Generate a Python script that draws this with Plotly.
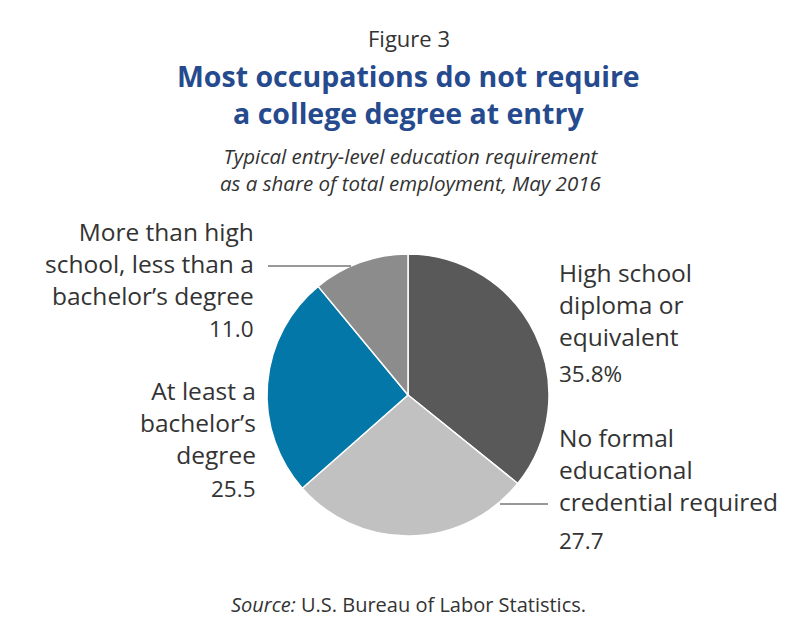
import plotly.graph_objects as go

W, H = 806, 638

categories = [
    "High school diploma or equivalent",
    "No formal educational credential required",
    "At least a bachelor's degree",
    "More than high school, less than a bachelor's degree",
]
values = [35.8, 27.7, 25.5, 11.0]
value_labels = ["35.8%", "27.7", "25.5", "11.0"]
colors = ["#595959", "#c1c1c1", "#0277a8", "#8c8c8c"]

label_lines = [
    ["High school", "diploma or", "equivalent"],
    ["No formal", "educational", "credential required"],
    ["At least a", "bachelor\u2019s", "degree"],
    ["More than high", "school, less than a", "bachelor\u2019s degree"],
]


def px(x):
    return x / W


def py(y):
    return 1 - y / H


cx, cy, r = 408, 395, 141

fig = go.Figure(
    go.Pie(
        labels=categories,
        values=values,
        sort=False,
        direction="clockwise",
        rotation=0,
        marker=dict(colors=colors, line=dict(color="white", width=1.5)),
        textinfo="none",
        hoverinfo="label+value",
        showlegend=False,
        domain=dict(x=[px(cx - r), px(cx + r)], y=[py(cy + r), py(cy - r)]),
    )
)

FONT = "Open Sans"
TXT = "#333333"
ann = []

def add(text, x, y, size, xanchor="center", color=TXT, family=FONT, align=None):
    ann.append(dict(text=text, x=px(x), y=py(y), xref="paper", yref="paper",
                    xanchor=xanchor, yanchor="middle", showarrow=False,
                    align=align or ("center" if xanchor == "center" else xanchor),
                    font=dict(family=family, size=size, color=color)))

add("Figure 3", 409, 38, 22)
add("<b>Most occupations do not require<br>a college degree at entry</b>",
    409, 94, 28.5, color="#264a8e")
add("<i>Typical entry-level education requirement<br>"
    "as a share of total employment, May 2016</i>", 410, 169.5, 20.5)

# label positions: (x anchor, xanchor, first line y, value y)
label_pos = [
    (557, "left", 272, 373),
    (557, "left", 437, 540),
    (258, "right", 390, 488),
    (256, "right", 232, 328),
]
for lines, val, (x, xa, y0, vy) in zip(label_lines, value_labels, label_pos):
    add("<br>".join(lines), x, y0 + 32, 24.5, xanchor=xa)
    add(val, x, vy, 22.5, xanchor=xa)

add("<i>Source:</i> U.S. Bureau of Labor Statistics.", 408, 604, 20)

shapes = [
    dict(type="line", xref="paper", yref="paper", x0=px(268), x1=px(351),
         y0=py(266), y1=py(266), line=dict(color="#333333", width=1)),
    dict(type="line", xref="paper", yref="paper", x0=px(500), x1=px(548),
         y0=py(504), y1=py(504), line=dict(color="#333333", width=1)),
]

fig.update_layout(
    width=W, height=H,
    margin=dict(l=0, r=0, t=0, b=0),
    paper_bgcolor="white", plot_bgcolor="white",
    annotations=ann, shapes=shapes,
)

fig.write_html("out.html", config={"displayModeBar": False},
               post_script="document.body.style.margin='0';")
